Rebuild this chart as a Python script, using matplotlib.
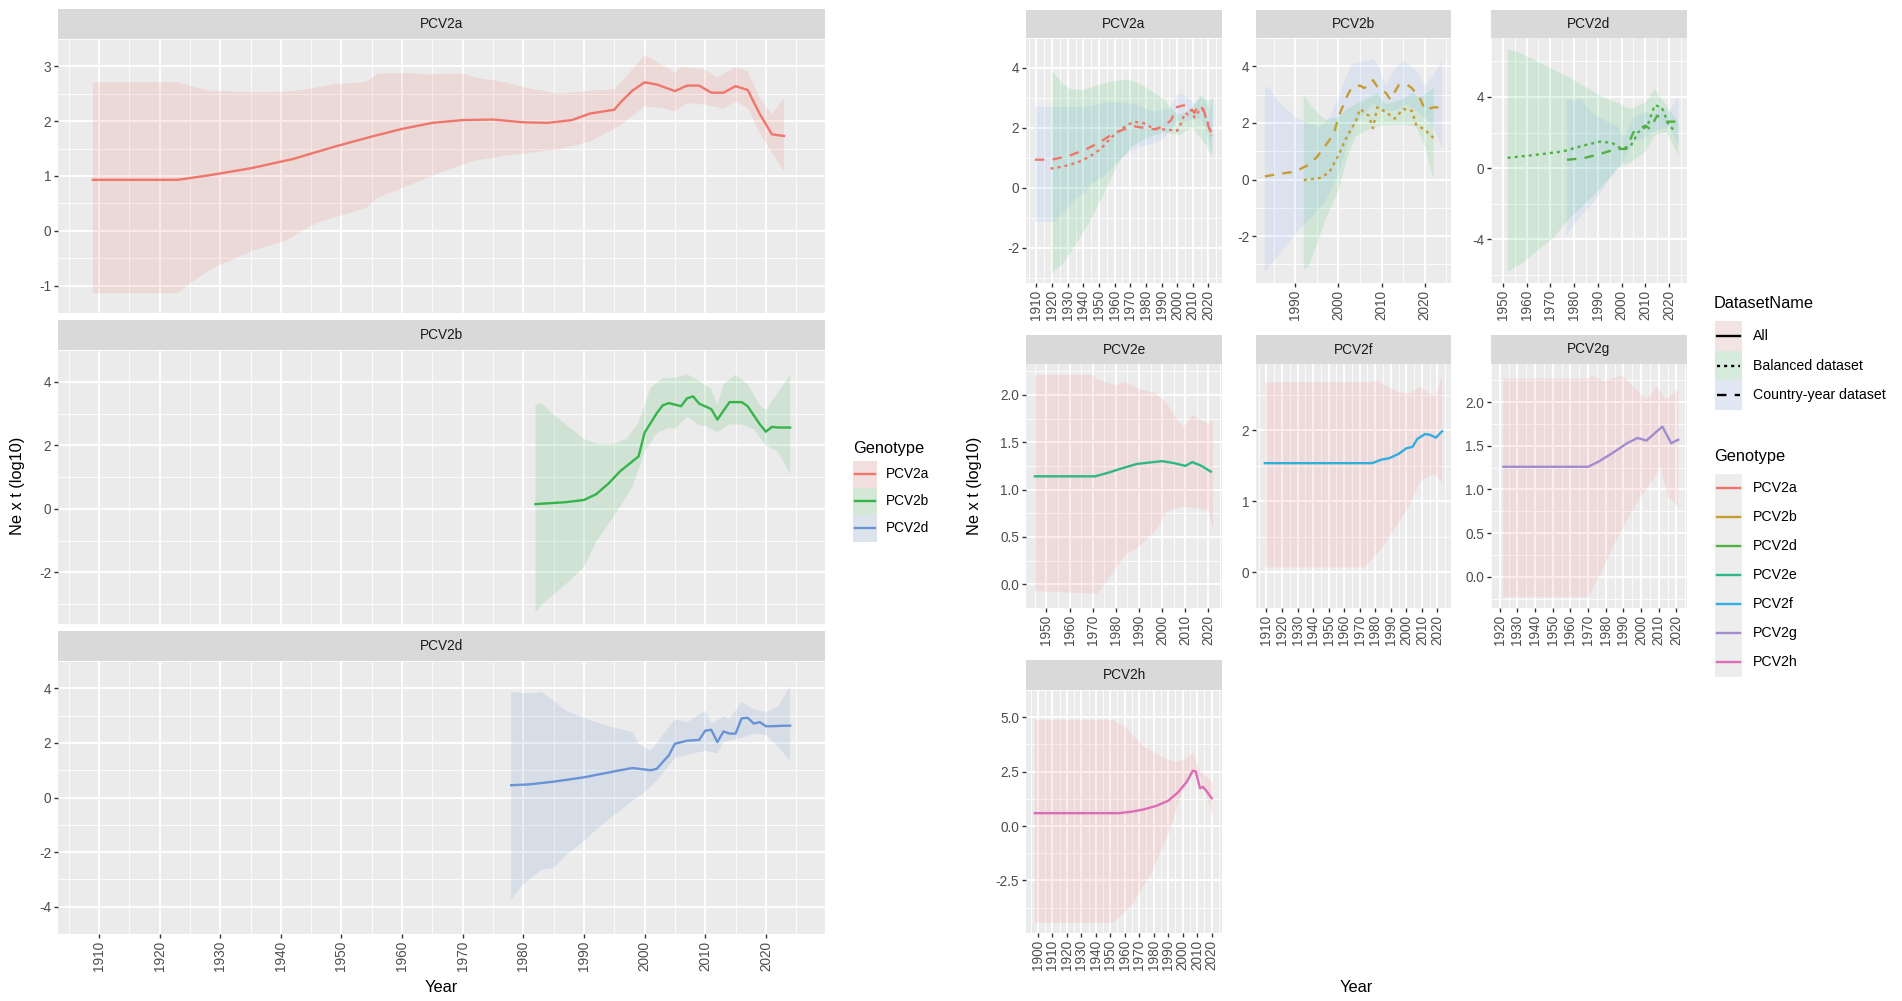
import matplotlib
matplotlib.use("Agg")
import matplotlib.pyplot as plt
import matplotlib.font_manager as fm
from matplotlib.patches import Rectangle
from matplotlib.lines import Line2D
from matplotlib.ticker import FuncFormatter
import numpy as np

plt.rcParams['font.family'] = ['Liberation Sans', 'DejaVu Sans']
plt.rcParams['axes.unicode_minus'] = False

try:
    fm.findfont('Liberation Sans Narrow', fallback_to_default=False)
    NARROW = ['Liberation Sans Narrow', 'Liberation Sans']
except ValueError:
    NARROW = ['Liberation Sans', 'DejaVu Sans']
WIDE = ['Liberation Sans', 'DejaVu Sans']

# ---------------- data: left figure (dataset "All") ----------------
left_genotypes = ['PCV2a', 'PCV2b', 'PCV2d']
left_colors = ['#F0766C', '#35B44A', '#6A93D6']

la_year = [1909, 1923, 1928, 1935, 1942, 1949, 1955, 1960, 1965, 1970, 1975, 1980, 1984, 1988,
           1991, 1995, 1996, 1998, 2000, 2002, 2005, 2007, 2009, 2011, 2013, 2015, 2017, 2019, 2021, 2023]
la_mid = [0.93, 0.93, 1.01, 1.14, 1.31, 1.54, 1.72, 1.86, 1.97, 2.02, 2.03, 1.98, 1.97, 2.02,
          2.14, 2.21, 2.34, 2.56, 2.71, 2.67, 2.55, 2.65, 2.65, 2.52, 2.52, 2.64, 2.57, 2.13, 1.76, 1.73]
la_hi_year = [1909, 1923, 1928, 1935, 1939, 1943, 1949, 1954, 1956, 1961, 1964, 1970, 1972, 1977, 1981,
              1986, 1990, 1995, 1997, 2000, 2002, 2005, 2006, 2010, 2012, 2015, 2017, 2019, 2021, 2023]
la_hi = [2.71, 2.71, 2.56, 2.53, 2.53, 2.56, 2.68, 2.71, 2.87, 2.88, 2.85, 2.87, 2.80, 2.71, 2.60,
         2.50, 2.55, 2.58, 2.82, 3.21, 3.09, 2.88, 2.99, 2.94, 2.80, 2.99, 2.91, 2.42, 2.13, 2.42]
la_lo_year = [1909, 1923, 1925, 1929, 1935, 1941, 1946, 1954, 1956, 1961, 1966, 1972, 1977, 1986,
              1991, 1996, 2000, 2003, 2005, 2007, 2010, 2013, 2015, 2017, 2019, 2021, 2023]
la_lo = [-1.14, -1.14, -0.96, -0.67, -0.38, -0.17, 0.15, 0.41, 0.61, 0.82, 1.05, 1.28, 1.37, 1.49,
         1.63, 1.92, 2.27, 2.24, 2.18, 2.33, 2.30, 2.23, 2.36, 2.24, 1.78, 1.43, 1.08]

lb_year = [1982, 1987, 1990, 1992, 1994, 1996, 1999, 2000, 2002, 2003, 2004, 2006, 2007, 2008,
           2009, 2011, 2012, 2014, 2016, 2017, 2019, 2020, 2021, 2022, 2024]
lb_mid = [0.15, 0.21, 0.28, 0.46, 0.79, 1.19, 1.65, 2.40, 3.01, 3.26, 3.33, 3.23, 3.48, 3.54,
          3.31, 3.14, 2.81, 3.36, 3.36, 3.23, 2.66, 2.43, 2.58, 2.56, 2.56]
lb_hi_year = [1982, 1983, 1985, 1987, 1990, 1992, 1995, 1997, 1999, 2001, 2003, 2005, 2007, 2009,
              2011, 2012, 2013, 2015, 2017, 2019, 2020, 2022, 2024]
lb_hi = [3.29, 3.33, 2.96, 2.66, 2.20, 2.05, 2.05, 2.20, 2.71, 3.82, 4.12, 4.12, 4.24, 4.02,
         3.77, 3.26, 3.92, 4.22, 3.92, 3.26, 3.11, 3.67, 4.22]
lb_lo_year = [1982, 1984, 1986, 1990, 1992, 1995, 1998, 2000, 2002, 2004, 2005, 2007, 2009, 2010,
              2012, 2014, 2016, 2018, 2020, 2022, 2024]
lb_lo = [-3.25, -2.85, -2.55, -1.84, -1.03, -0.22, 0.69, 1.80, 2.38, 2.56, 2.51, 2.91, 2.63, 2.61,
         2.42, 2.66, 2.66, 2.51, 2.00, 1.80, 1.09]

ld_year = [1978, 1981, 1985, 1990, 1993, 1996, 1998, 2001, 2002, 2004, 2005, 2007, 2009, 2010,
           2011, 2012, 2013, 2014, 2015, 2016, 2017, 2018, 2019, 2020, 2021, 2023, 2024]
ld_mid = [0.45, 0.48, 0.58, 0.74, 0.87, 1.00, 1.08, 1.00, 1.05, 1.55, 1.97, 2.08, 2.11, 2.45,
          2.48, 2.03, 2.42, 2.34, 2.34, 2.90, 2.92, 2.71, 2.76, 2.61, 2.61, 2.63, 2.63]
ld_hi_year = [1978, 1981, 1983, 1985, 1987, 1990, 1994, 1998, 1999, 2001, 2003, 2005, 2007, 2010,
              2011, 2013, 2014, 2016, 2018, 2020, 2022, 2024]
ld_hi = [3.87, 3.81, 3.87, 3.55, 3.18, 2.92, 2.61, 2.40, 1.97, 1.71, 2.29, 2.87, 2.76, 3.18,
         2.71, 2.97, 2.87, 3.50, 3.24, 3.13, 3.34, 4.08]
ld_lo_year = [1978, 1980, 1983, 1985, 1987, 1990, 1992, 1995, 1998, 2000, 2002, 2005, 2008, 2010,
              2012, 2013, 2016, 2018, 2020, 2022, 2024]
ld_lo = [-3.75, -3.17, -2.65, -2.59, -2.12, -1.60, -1.18, -0.65, -0.13, 0.19, 0.61, 1.45, 1.61, 1.71,
         1.61, 2.03, 2.18, 2.34, 2.29, 1.87, 1.34]

# ---------------- data: right figure ----------------
right_genotypes = ['PCV2a', 'PCV2b', 'PCV2d', 'PCV2e', 'PCV2f', 'PCV2g', 'PCV2h']
right_colors = ['#EE766B', '#C59D33', '#52B043', '#2FB784', '#33ACDE', '#A08CD0', '#DC6DB6']
dataset_names = ['All', 'Balanced dataset', 'Country-year dataset']
dataset_fills = ['#F8766D', '#00BA38', '#619CFF']

# PCV2a: balanced / country-year
ra_cy_year = [1909, 1920, 1931, 1942, 1951, 1959, 1966, 1973, 1981, 1986, 1992, 1996, 2000, 2004,
              2008, 2011, 2014, 2017, 2019, 2022]
ra_cy = [0.94, 0.94, 1.07, 1.29, 1.54, 1.81, 1.95, 2.05, 1.98, 1.95, 2.08, 2.25, 2.70, 2.75,
         2.72, 2.50, 2.78, 2.60, 2.20, 1.79]
ra_bal_year = [1919, 1927, 1936, 1944, 1951, 1957, 1964, 1969, 1973, 1979, 1984, 1989, 1993, 1997,
               2000, 2003, 2005, 2007, 2009, 2011, 2013, 2016, 2018, 2020, 2022]
ra_bal = [0.64, 0.71, 0.84, 1.04, 1.29, 1.64, 1.95, 2.12, 2.20, 2.15, 2.00, 1.95, 1.95, 1.92,
          1.90, 2.20, 2.50, 2.45, 2.60, 2.35, 2.50, 2.65, 2.40, 2.10, 1.74]
ra_cy_hi_year = [1909, 1940, 1955, 1965, 1975, 1985, 1995, 2000, 2003, 2008, 2012, 2015, 2018, 2021, 2023]
ra_cy_hi = [2.70, 2.70, 2.85, 2.85, 2.75, 2.55, 2.65, 3.10, 3.15, 2.95, 2.80, 3.05, 2.90, 2.60, 3.00]
ra_cy_lo_year = [1909, 1922, 1925, 1930, 1935, 1941, 1946, 1954, 1961, 1966, 1972, 1977, 1986, 1991,
                 1996, 2000, 2005, 2010, 2015, 2018, 2021, 2023]
ra_cy_lo = [-1.13, -1.13, -0.96, -0.67, -0.38, -0.17, 0.15, 0.41, 0.82, 1.05, 1.28, 1.37, 1.49, 1.63,
            1.92, 2.27, 2.20, 2.30, 2.30, 2.00, 1.40, 1.00]
ra_bal_hi_year = [1920, 1927, 1931, 1940, 1948, 1959, 1968, 1975, 1983, 1992, 1996, 2000, 2005, 2010,
                  2015, 2020, 2023]
ra_bal_hi = [3.91, 3.46, 3.31, 3.26, 3.41, 3.56, 3.61, 3.50, 3.26, 2.95, 2.65, 2.45, 2.50, 2.70,
             3.10, 2.90, 3.00]
ra_bal_lo_year = [1920, 1927, 1936, 1944, 1953, 1962, 1971, 1982, 1992, 2001, 2010, 2019, 2022]
ra_bal_lo = [-2.84, -2.54, -1.83, -1.13, -0.22, 0.79, 1.39, 1.69, 1.85, 1.75, 2.00, 1.39, 0.99]

# PCV2b
rb_cy_year = [1983, 1986, 1990, 1993, 1995, 1997, 1999, 2000, 2002, 2003, 2005, 2006, 2008, 2009,
              2011, 2012, 2014, 2016, 2017, 2019, 2020, 2022, 2024]
rb_cy = [0.11, 0.19, 0.28, 0.51, 0.79, 1.19, 1.64, 2.21, 2.94, 3.23, 3.32, 3.23, 3.51, 3.28,
         3.06, 2.83, 3.34, 3.34, 3.23, 2.83, 2.46, 2.55, 2.55]
rb_bal_year = [1992, 1996, 1998, 2000, 2002, 2004, 2005, 2007, 2008, 2009, 2011, 2013, 2015, 2017,
               2018, 2020, 2022]
rb_bal = [-0.02, 0.06, 0.28, 0.85, 1.53, 2.04, 2.49, 2.26, 1.81, 2.55, 2.38, 2.15, 2.49, 2.43,
          1.93, 1.76, 1.47]
rb_cy_hi_year = [1983, 1984, 1986, 1990, 1993, 1996, 1998, 2000, 2003, 2005, 2008, 2009, 2011, 2013,
                 2015, 2018, 2020, 2022, 2024]
rb_cy_hi = [3.23, 3.28, 2.77, 2.21, 1.98, 1.87, 2.21, 2.89, 4.08, 4.13, 4.25, 4.08, 3.34, 3.90,
            4.19, 3.85, 3.34, 3.68, 4.19]
rb_cy_lo_year = [1983, 1985, 1988, 1991, 1994, 1997, 2000, 2002, 2004, 2008, 2010, 2013, 2016, 2019,
                 2022, 2024]
rb_cy_lo = [-3.28, -2.89, -2.32, -1.76, -1.30, -0.79, 0.17, 1.19, 1.98, 2.66, 2.43, 2.43, 2.66, 2.32,
            1.87, 1.08]
rb_bal_hi_year = [1992, 1994, 1997, 2000, 2002, 2004, 2007, 2009, 2011, 2015, 2017, 2019, 2022]
rb_bal_hi = [3.00, 2.55, 2.10, 2.21, 2.49, 2.66, 2.89, 3.06, 2.66, 2.83, 3.06, 2.89, 3.23]
rb_bal_lo_year = [1992, 1993, 1995, 1997, 2000, 2002, 2004, 2007, 2009, 2012, 2015, 2018, 2020, 2022]
rb_bal_lo = [-3.17, -3.11, -2.32, -1.42, -0.40, 0.74, 1.53, 1.76, 1.87, 1.93, 1.93, 1.87, 1.19, 0.00]

# PCV2d
rd_bal_year = [1952, 1964, 1975, 1984, 1991, 1996, 2000, 2004, 2007, 2011, 2014, 2017, 2020, 2023]
rd_bal = [0.58, 0.75, 0.93, 1.27, 1.49, 1.42, 1.08, 1.27, 2.01, 2.39, 3.54, 3.41, 2.39, 2.05]
rd_cy_year = [1977, 1984, 1991, 1998, 2002, 2005, 2010, 2012, 2015, 2019, 2023]
rd_cy = [0.47, 0.56, 0.80, 1.08, 1.08, 2.01, 2.39, 2.20, 2.95, 2.61, 2.61]
rd_bal_hi_year = [1952, 1957, 1964, 1971, 1978, 1984, 1991, 1998, 2004, 2010, 2014, 2019, 2024]
rd_bal_hi = [6.68, 6.49, 6.03, 5.56, 5.09, 4.63, 4.07, 3.69, 3.32, 3.69, 4.44, 3.51, 2.57]
rd_bal_lo_year = [1952, 1957, 1964, 1971, 1978, 1984, 1991, 1998, 2004, 2010, 2014, 2019, 2024]
rd_bal_lo = [-5.82, -5.45, -4.70, -3.96, -2.84, -2.09, -1.16, -0.04, 0.34, 0.90, 1.83, 2.01, 0.71]
rd_cy_hi_year = [1977, 1980, 1983, 1985, 1987, 1990, 1994, 1998, 2001, 2003, 2005, 2010, 2013, 2016,
                 2020, 2024]
rd_cy_hi = [3.87, 3.81, 3.87, 3.55, 3.18, 2.92, 2.61, 2.40, 1.71, 2.29, 2.87, 3.18, 2.97, 3.50,
            3.13, 4.08]
rd_cy_lo_year = [1977, 1980, 1983, 1987, 1990, 1995, 2000, 2005, 2010, 2013, 2016, 2020, 2024]
rd_cy_lo = [-3.75, -3.17, -2.65, -2.12, -1.60, -0.65, 0.19, 1.45, 1.71, 2.03, 2.18, 2.29, 1.34]

# PCV2e..PCV2h: dataset "All"
re_year = [1945, 1971, 1977, 1982, 1989, 1996, 2000, 2005, 2010, 2013, 2017, 2021]
re_mid = [1.14, 1.14, 1.18, 1.22, 1.27, 1.29, 1.30, 1.28, 1.25, 1.29, 1.25, 1.19]
re_hi_year = [1945, 1970, 1972, 1980, 1984, 1989, 1997, 2002, 2009, 2013, 2016, 2020, 2022]
re_hi = [2.21, 2.21, 2.16, 2.10, 2.14, 2.07, 2.02, 1.91, 1.65, 1.79, 1.74, 1.70, 1.74]
re_lo_year = [1945, 1972, 1977, 1984, 1989, 1997, 2002, 2009, 2016, 2020, 2022]
re_lo = [-0.07, -0.10, 0.07, 0.31, 0.38, 0.56, 0.77, 0.82, 0.80, 0.78, 0.56]

rf_year = [1909, 1978, 1984, 1989, 1995, 2000, 2004, 2007, 2012, 2015, 2019, 2023]
rf_mid = [1.54, 1.54, 1.59, 1.61, 1.67, 1.75, 1.77, 1.88, 1.95, 1.94, 1.90, 1.99]
rf_hi_year = [1909, 1976, 1981, 1995, 2002, 2009, 2015, 2019, 2023]
rf_hi = [2.68, 2.68, 2.70, 2.54, 2.52, 2.62, 2.52, 2.49, 2.80]
rf_lo_year = [1909, 1973, 1984, 1995, 2002, 2009, 2015, 2019, 2023]
rf_lo = [0.07, 0.07, 0.33, 0.70, 0.95, 1.28, 1.36, 1.38, 1.26]

rg_year = [1922, 1970, 1976, 1984, 1992, 1998, 2003, 2008, 2012, 2017, 2021]
rg_mid = [1.26, 1.26, 1.32, 1.42, 1.53, 1.59, 1.56, 1.65, 1.72, 1.53, 1.57]
rg_hi_year = [1922, 1970, 1973, 1979, 1989, 1997, 2003, 2009, 2014, 2021]
rg_hi = [2.27, 2.27, 2.30, 2.24, 2.31, 2.15, 2.03, 2.18, 2.03, 2.15]
rg_lo_year = [1922, 1970, 1976, 1984, 1992, 1998, 2004, 2011, 2015, 2021]
rg_lo = [-0.23, -0.23, -0.01, 0.34, 0.65, 0.86, 1.03, 1.26, 0.92, 0.80]

rh_year = [1898, 1956, 1965, 1973, 1982, 1990, 1997, 2003, 2007, 2009, 2012, 2014, 2017, 2020]
rh_mid = [0.59, 0.59, 0.66, 0.76, 0.93, 1.16, 1.56, 2.05, 2.54, 2.51, 1.73, 1.80, 1.56, 1.28]
rh_hi_year = [1898, 1952, 1961, 1973, 1986, 1995, 2003, 2007, 2012, 2021]
rh_hi = [4.88, 4.88, 4.50, 3.66, 3.17, 2.93, 3.10, 3.38, 2.54, 1.98]
rh_lo_year = [1898, 1952, 1965, 1978, 1990, 1999, 2007, 2012, 2021]
rh_lo = [-4.45, -4.45, -3.63, -2.23, -0.41, 1.42, 2.40, 2.26, 0.43]

# ---------------- styling ----------------
W, H = 1902, 1001
PANEL_BG = '#EBEBEB'
STRIP_BG = '#D9D9D9'
TICK_C = '#4D4D4D'
LW = 1.7
DASH = (4, 3.5)
DOT = (1.3, 1.7)
FS_TICK = 9.8
FS_TITLE = 11.8

fig = plt.figure(figsize=(W / 100, H / 100), dpi=100)


def rect(x0, y0, x1, y1):
    return [x0 / W, 1 - y1 / H, (x1 - x0) / W, (y1 - y0) / H]


def make_panel(x0, x1, ys, y0, y1, title, family):
    ax = fig.add_axes(rect(x0, y0, x1, y1))
    ax.set_facecolor(PANEL_BG)
    for sp in ax.spines.values():
        sp.set_visible(False)
    ax.set_axisbelow(True)
    st = fig.add_axes(rect(x0, ys, x1, y0))
    st.set_facecolor(STRIP_BG)
    st.set_xticks([])
    st.set_yticks([])
    for sp in st.spines.values():
        sp.set_visible(False)
    st.text(0.5, 0.5, title, ha='center', va='center', fontsize=FS_TICK,
            color='#1A1A1A', family=family, transform=st.transAxes)
    return ax


def finish(ax, xmajor, ymajor, yfmt, family, xlabels=True):
    xs = xmajor[1] - xmajor[0]
    ysx = ymajor[1] - ymajor[0]
    ax.set_xticks(xmajor)
    ax.set_xticks(np.arange(xmajor[0] - xs / 2, xmajor[-1] + xs, xs), minor=True)
    ax.set_yticks(ymajor)
    ax.set_yticks(np.arange(ymajor[0] - ysx / 2, ymajor[-1] + ysx, ysx), minor=True)
    ax.yaxis.set_major_formatter(FuncFormatter(lambda v, p: yfmt.format(v)))
    ax.grid(which='major', color='white', lw=1.3)
    ax.grid(which='minor', color='white', lw=0.6)
    ax.tick_params(which='minor', length=0)
    ax.tick_params(which='major', length=3, width=1.0, color='#333333',
                   labelsize=FS_TICK, labelcolor=TICK_C, pad=2)
    ax.tick_params(axis='x', labelrotation=90)
    if not xlabels:
        ax.tick_params(axis='x', bottom=False, labelbottom=False)
    for lab in ax.get_xticklabels() + ax.get_yticklabels():
        lab.set_family(family)


def ribbon(ax, hi_x, hi_y, lo_x, lo_y, color, alpha):
    ax.fill(list(hi_x) + list(lo_x[::-1]), list(hi_y) + list(lo_y[::-1]),
            color=color, alpha=alpha, lw=0)


# ---------------- left figure ----------------
left_rows = [(9, 39, 313), (320, 350, 624), (631, 661, 934)]
left_data = [
    (la_year, la_mid, la_hi_year, la_hi, la_lo_year, la_lo, [-1, 0, 1, 2, 3]),
    (lb_year, lb_mid, lb_hi_year, lb_hi, lb_lo_year, lb_lo, [-2, 0, 2, 4]),
    (ld_year, ld_mid, ld_hi_year, ld_hi, ld_lo_year, ld_lo, [-4, -2, 0, 2, 4]),
]
all_years = [y for d in left_data for arr in (d[0], d[2], d[4]) for y in arr]
xmin, xmax = min(all_years), max(all_years)
pad = 0.05 * (xmax - xmin)
for i, (row, d) in enumerate(zip(left_rows, left_data)):
    yr, mid, hx, hy, lx, ly, yt = d
    ax = make_panel(58, 825, row[0], row[1], row[2], left_genotypes[i], NARROW)
    ribbon(ax, hx, hy, lx, ly, left_colors[i], 0.15)
    ax.plot(yr, mid, color=left_colors[i], lw=LW, solid_joinstyle='round')
    ax.set_xlim(xmin - pad, xmax + pad)
    finish(ax, list(range(1910, 2021, 10)), yt, '{:.0f}', NARROW, xlabels=(i == 2))

fig.text(18 / W, 1 - 486 / H, 'Ne x t (log10)', rotation=90, ha='center', va='center',
         fontsize=FS_TITLE, family=NARROW)
fig.text(441 / W, 1 - 988 / H, 'Year', ha='center', va='center', fontsize=FS_TITLE, family=NARROW)

# left legend
fig.text(853 / W, 1 - 449 / H, 'Genotype', ha='left', va='center', fontsize=FS_TITLE, family=NARROW)
for i, g in enumerate(left_genotypes):
    yc = 474 + 27 * i
    fig.add_artist(Rectangle((853 / W, 1 - (yc + 13.5) / H), 24 / W, 27 / H,
                             transform=fig.transFigure, facecolor='#F2F2F2', lw=0))
    fig.add_artist(Rectangle((853 / W, 1 - (yc + 13.5) / H), 24 / W, 27 / H,
                             transform=fig.transFigure, facecolor=left_colors[i], alpha=0.15, lw=0))
    fig.add_artist(Line2D([855 / W, 875 / W], [1 - yc / H, 1 - yc / H], transform=fig.transFigure,
                          color=left_colors[i], lw=LW))
    fig.text(886 / W, 1 - yc / H, g, ha='left', va='center', fontsize=FS_TICK, family=NARROW)

# ---------------- right figure ----------------
cols = [(1026, 1222), (1256, 1451), (1491, 1687)]
rows = [(10, 38, 283), (335, 364, 608), (660, 690, 933)]
RA = 0.11

# row 1: balanced and country-year datasets
r1 = [
    ('PCV2a', 0, list(range(1910, 2021, 10)), [-2, 0, 2, 4],
     (ra_cy_year, ra_cy, ra_cy_hi_year, ra_cy_hi, ra_cy_lo_year, ra_cy_lo),
     (ra_bal_year, ra_bal, ra_bal_hi_year, ra_bal_hi, ra_bal_lo_year, ra_bal_lo)),
    ('PCV2b', 1, [1990, 2000, 2010, 2020], [-2, 0, 2, 4],
     (rb_cy_year, rb_cy, rb_cy_hi_year, rb_cy_hi, rb_cy_lo_year, rb_cy_lo),
     (rb_bal_year, rb_bal, rb_bal_hi_year, rb_bal_hi, rb_bal_lo_year, rb_bal_lo)),
    ('PCV2d', 2, list(range(1950, 2021, 10)), [-4, 0, 4],
     (rd_cy_year, rd_cy, rd_cy_hi_year, rd_cy_hi, rd_cy_lo_year, rd_cy_lo),
     (rd_bal_year, rd_bal, rd_bal_hi_year, rd_bal_hi, rd_bal_lo_year, rd_bal_lo)),
]
for j, (g, gi, xt, yt, cy, bal) in enumerate(r1):
    ax = make_panel(cols[j][0], cols[j][1], rows[0][0], rows[0][1], rows[0][2], g, WIDE)
    ribbon(ax, cy[2], cy[3], cy[4], cy[5], dataset_fills[2], RA)
    ribbon(ax, bal[2], bal[3], bal[4], bal[5], dataset_fills[1], RA)
    ax.plot(cy[0], cy[1], color=right_colors[gi], lw=LW, dashes=DASH)
    ax.plot(bal[0], bal[1], color=right_colors[gi], lw=LW, dashes=DOT)
    finish(ax, xt, yt, '{:.0f}', WIDE)

# rows 2-3: all data
r2 = [
    ('PCV2e', 3, 1, 0, list(range(1950, 2021, 10)), [0, 0.5, 1.0, 1.5, 2.0], '{:.1f}',
     (re_year, re_mid, re_hi_year, re_hi, re_lo_year, re_lo)),
    ('PCV2f', 4, 1, 1, list(range(1910, 2021, 10)), [0, 1, 2], '{:.0f}',
     (rf_year, rf_mid, rf_hi_year, rf_hi, rf_lo_year, rf_lo)),
    ('PCV2g', 5, 1, 2, list(range(1920, 2021, 10)), [0, 0.5, 1.0, 1.5, 2.0], '{:.1f}',
     (rg_year, rg_mid, rg_hi_year, rg_hi, rg_lo_year, rg_lo)),
    ('PCV2h', 6, 2, 0, list(range(1900, 2021, 10)), [-2.5, 0, 2.5, 5.0], '{:.1f}',
     (rh_year, rh_mid, rh_hi_year, rh_hi, rh_lo_year, rh_lo)),
]
for g, gi, ri, ci, xt, yt, yf, d in r2:
    ax = make_panel(cols[ci][0], cols[ci][1], rows[ri][0], rows[ri][1], rows[ri][2], g, WIDE)
    ribbon(ax, d[2], d[3], d[4], d[5], dataset_fills[0], RA + 0.02)
    ax.plot(d[0], d[1], color=right_colors[gi], lw=LW)
    finish(ax, xt, yt, yf, WIDE)

fig.text(974 / W, 1 - 486 / H, 'Ne x t (log10)', rotation=90, ha='center', va='center',
         fontsize=FS_TITLE)
fig.text(1356 / W, 1 - 988 / H, 'Year', ha='center', va='center', fontsize=FS_TITLE)

# right legends
styles = ['-', DOT, DASH]
fig.text(1714 / W, 1 - 304 / H, 'DatasetName', ha='left', va='center', fontsize=FS_TITLE)
for i, nm in enumerate(dataset_names):
    yc = 336 + 29.5 * i
    fig.add_artist(Rectangle((1715 / W, 1 - (yc + 14.75) / H), 27 / W, 29.5 / H,
                             transform=fig.transFigure, facecolor='#F2F2F2', lw=0))
    fig.add_artist(Rectangle((1715 / W, 1 - (yc + 14.75) / H), 27 / W, 29.5 / H,
                             transform=fig.transFigure, facecolor=dataset_fills[i], alpha=RA, lw=0))
    ln = Line2D([1717 / W, 1740 / W], [1 - yc / H, 1 - yc / H], transform=fig.transFigure,
                color='black', lw=LW)
    if styles[i] != '-':
        ln.set_dashes(styles[i])
    fig.add_artist(ln)
    fig.text(1753 / W, 1 - yc / H, nm, ha='left', va='center', fontsize=FS_TICK + 0.4)

fig.text(1714 / W, 1 - 456 / H, 'Genotype', ha='left', va='center', fontsize=FS_TITLE)
fig.add_artist(Rectangle((1715 / W, 1 - (488 + 29 * 6 + 14.5) / H), 27 / W, 29 * 7 / H,
                         transform=fig.transFigure, facecolor='#EDEDED', lw=0))
for i, g in enumerate(right_genotypes):
    yc = 488 + 29 * i
    fig.add_artist(Line2D([1717 / W, 1740 / W], [1 - yc / H, 1 - yc / H], transform=fig.transFigure,
                          color=right_colors[i], lw=LW))
    fig.text(1753 / W, 1 - yc / H, g, ha='left', va='center', fontsize=FS_TICK + 0.4)

fig.savefig('out.png', dpi=100, facecolor='white')
